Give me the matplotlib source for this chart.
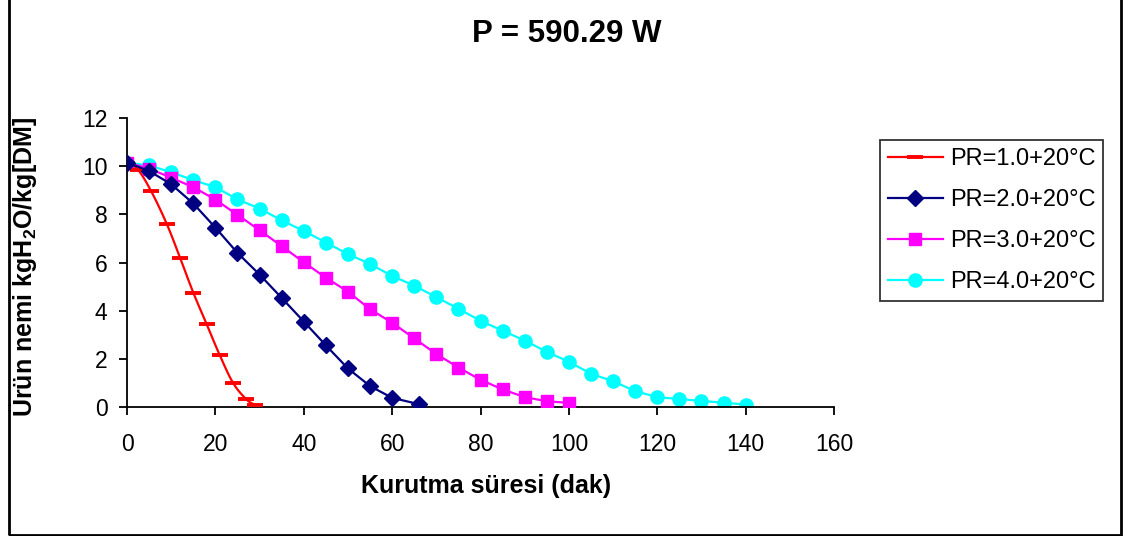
import numpy as np
import matplotlib
matplotlib.use("Agg")
import matplotlib.pyplot as plt
from matplotlib.patches import Rectangle

plt.rcParams["font.family"] = ["Liberation Sans", "DejaVu Sans"]
plt.rcParams["mathtext.fontset"] = "custom"
plt.rcParams["mathtext.rm"] = "Liberation Sans:bold"
plt.rcParams["mathtext.default"] = "rm"

# Drying time (min) and product moisture (kg H2O / kg DM)
t_pr1 = [0, 2.5, 5.5, 9, 12, 15, 18, 21, 24, 27, 29]
m_pr1 = [10.15, 9.85, 8.95, 7.6, 6.2, 4.75, 3.45, 2.15, 1.0, 0.32, 0.08]

t_pr2 = [0, 5, 10, 15, 20, 25, 30, 35, 40, 45, 50, 55, 60, 66]
m_pr2 = [10.15, 9.8, 9.25, 8.45, 7.45, 6.4, 5.5, 4.53, 3.55, 2.56, 1.6, 0.87, 0.38, 0.12]

t_pr3 = [0, 5, 10, 15, 20, 25, 30, 35, 40, 45, 50, 55, 60, 65, 70, 75, 80, 85,
         90, 95, 100]
m_pr3 = [10.15, 9.9, 9.52, 9.13, 8.61, 7.98, 7.34, 6.68, 6.01, 5.37, 4.79, 4.06,
         3.5, 2.85, 2.2, 1.64, 1.13, 0.73, 0.41, 0.24, 0.17]

t_pr4 = [0, 5, 10, 15, 20, 25, 30, 35, 40, 45, 50, 55, 60, 65, 70, 75, 80, 85,
         90, 95, 100, 105, 110, 115, 120, 125, 130, 135, 140]
m_pr4 = [10.15, 10.03, 9.75, 9.42, 9.13, 8.62, 8.24, 7.75, 7.31, 6.83, 6.35, 5.94,
         5.44, 5.04, 4.56, 4.08, 3.58, 3.17, 2.76, 2.29, 1.88, 1.38, 1.07, 0.66,
         0.41, 0.33, 0.25, 0.18, 0.1]

labels = ["PR=1.0+20°C", "PR=2.0+20°C", "PR=3.0+20°C", "PR=4.0+20°C"]
x_ticks = [0, 20, 40, 60, 80, 100, 120, 140, 160]
y_ticks = [0, 2, 4, 6, 8, 10, 12]


def smooth(x, y, n=12):
    """Catmull-Rom curve through the points (smoothed line)."""
    x = np.asarray(x, float)
    y = np.asarray(y, float)
    px = np.concatenate([[2 * x[0] - x[1]], x, [2 * x[-1] - x[-2]]])
    py = np.concatenate([[2 * y[0] - y[1]], y, [2 * y[-1] - y[-2]]])
    xs, ys = [], []
    s = np.linspace(0, 1, n, endpoint=False)
    for i in range(1, len(px) - 2):
        for arr, out in ((px, xs), (py, ys)):
            p0, p1, p2, p3 = arr[i - 1], arr[i], arr[i + 1], arr[i + 2]
            out.extend(0.5 * ((2 * p1) + (-p0 + p2) * s
                              + (2 * p0 - 5 * p1 + 4 * p2 - p3) * s ** 2
                              + (-p0 + 3 * p1 - 3 * p2 + p3) * s ** 3))
    xs.append(x[-1])
    ys.append(y[-1])
    return np.array(xs), np.array(ys)


fig = plt.figure(figsize=(11.29, 5.36), dpi=100)
ax = fig.add_axes([127 / 1129, 1 - 407 / 536, (834 - 127) / 1129, (407 - 118) / 536])

red, navy, magenta, cyan = "#FF0000", "#000080", "#FF00FF", "#00FFFF"

sx, sy = smooth(t_pr1, m_pr1)
ax.plot(sx, sy, color=red, lw=1.6, zorder=3)
ax.plot(t_pr1, m_pr1, ls="none", marker="_", ms=12, mew=2.8, color=red, zorder=4)
h1, = ax.plot([], [], color=red, lw=1.6, marker="_", ms=12, mew=2.8)

h2, = ax.plot(t_pr2, m_pr2, color=navy, lw=1.6, marker="D", ms=8.5, mec=navy, mfc=navy, zorder=4)
h3, = ax.plot(t_pr3, m_pr3, color=magenta, lw=1.6, marker="s", ms=9, mec=magenta, mfc=magenta, zorder=3)
h4, = ax.plot(t_pr4, m_pr4, color=cyan, lw=1.6, marker="o", ms=9.5, mec=cyan, mfc=cyan, zorder=2)

ax.set_xlim(0, 160)
ax.set_ylim(0, 12)
ax.set_xticks(x_ticks)
ax.set_yticks(y_ticks)
ax.tick_params(axis="both", direction="out", length=6, width=1.3, labelsize=16.5, colors="black")
ax.tick_params(axis="x", pad=13)
ax.tick_params(axis="y", pad=8)
ax.spines["top"].set_visible(False)
ax.spines["right"].set_visible(False)
for sp in ("left", "bottom"):
    ax.spines[sp].set_linewidth(1.3)

fig.text(567 / 1129, 1 - 34 / 536, "P = 590.29 W", ha="center", va="center",
         fontsize=22.5, fontweight="bold")
fig.text(486 / 1129, 1 - 486 / 536, "Kurutma süresi (dak)", ha="center", va="center",
         fontsize=18, fontweight="bold")
fig.text(23.5 / 1129, 1 - 267 / 536, "Ürün nemi kgH$_2$O/kg[DM]", ha="center", va="center",
         rotation=90, fontsize=18, fontweight="bold")

leg = fig.legend([h1, h2, h3, h4], labels, loc="upper left",
                 bbox_to_anchor=(880 / 1129, 1 - 140 / 536), bbox_transform=fig.transFigure,
                 fontsize=17, frameon=True, fancybox=False, edgecolor="black",
                 handlelength=2.3, handletextpad=0.3, labelspacing=0.8,
                 borderpad=0.35, borderaxespad=0)
leg.get_frame().set_linewidth(1.3)

fig.add_artist(Rectangle((8.5 / 1129, 1.5 / 536), (1120.5 - 8.5) / 1129, 1.2,
                         transform=fig.transFigure, fill=False, edgecolor="black",
                         linewidth=2))

fig.savefig("out.png", dpi=100, facecolor="white")
